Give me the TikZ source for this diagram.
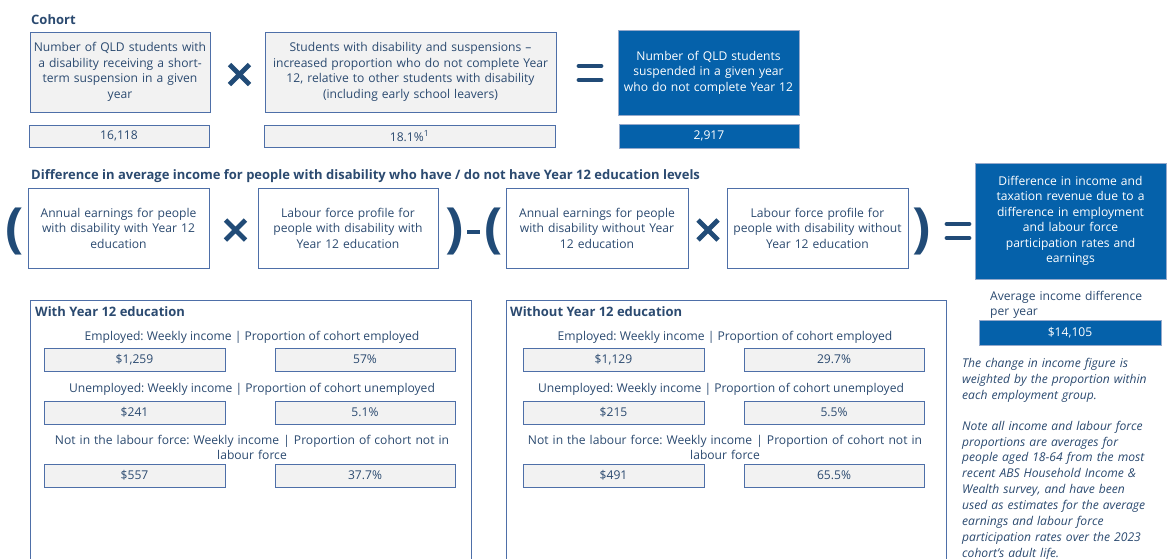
\documentclass[tikz,border=0pt]{standalone}
\usepackage{fontspec}
\setmainfont{Open Sans}
\frenchspacing
\definecolor{txt}{HTML}{2B4A70}
\definecolor{bordc}{HTML}{4E6FA8}
\definecolor{grayf}{HTML}{F2F2F2}
\definecolor{bluef}{HTML}{0561AA}
\definecolor{opc}{HTML}{214B77}
\tikzset{
  base/.style={align=center, text=txt, inner sep=1pt, font=\fontsize{12.1}{15.5}\selectfont},
  graybox/.style={base, draw=bordc, line width=0.9pt, fill=grayf},
  whitebox/.style={base, draw=bordc, line width=0.9pt, fill=white},
  bluebox/.style={base, draw=bordc!60, line width=0.6pt, fill=bluef, text=white},
  title/.style={text=txt, inner sep=0pt, anchor=west, font=\fontsize{13}{15}\selectfont\bfseries},
  label/.style={base},
  opline/.style={draw=opc, line width=4.8pt},
  paren/.style={text=opc, inner sep=0pt, font=\fontsize{54}{54}\selectfont\bfseries},
  panel/.style={draw=bordc, line width=0.9pt, fill=white, anchor=north west, inner sep=0pt},
}
\begin{document}
\begin{tikzpicture}[x=1pt,y=-1pt]
\useasboundingbox (0,0) rectangle (1170,558);
\fill[white] (0,0) rectangle (1170,558);

% --- Cohort row
\node[title] (t1) at (31,20) {Cohort};
\node[graybox, minimum width=180pt, minimum height=80pt, text width=178pt] (b1) at (120,72)
  {Number of QLD students with\\ a disability receiving a short-\\ term suspension in a given\\ year};
\node[graybox, minimum width=291pt, minimum height=80pt, text width=288pt] (b2) at (410.5,72)
  {Students with disability and suspensions --\\ increased proportion who do not complete Year\\ 12, relative to other students with disability\\ (including early school leavers)};
\node[bluebox, minimum width=181pt, minimum height=85pt, text width=178pt] (b3) at (708.5,72.5)
  {Number of QLD students\\ suspended in a given year\\ who do not complete Year 12};
\node[graybox, minimum width=180pt, minimum height=22pt] (v1) at (119,136) {16,118};
\node[graybox, minimum width=291pt, minimum height=22pt] (v2) at (409.5,136) {18.1\%\textsuperscript{1}};
\node[bluebox, minimum width=180pt, minimum height=24pt] (v3) at (709,136) {2,917};

\draw[opline] (229.5,64.5) -- (249.5,84.5) (229.5,84.5) -- (249.5,64.5);
\draw[opline, line cap=round] (579,66) -- (601,66) (579,80) -- (601,80);

% --- Income difference row
\node[title] (t2) at (31,176) {Difference in average income for people with disability who have / do not have Year 12 education levels};
\node[paren] (lp1) at (15,231) {(};
\node[whitebox, minimum width=181pt, minimum height=80pt, text width=178pt] (a) at (118.5,228)
  {Annual earnings for people\\ with disability with Year 12\\ education};
\draw[opline] (225.5,220) -- (245.5,240) (225.5,240) -- (245.5,220);
\node[whitebox, minimum width=180pt, minimum height=80pt, text width=178pt] (b) at (348,228)
  {Labour force profile for\\ people with disability with\\ Year 12 education};
\node[paren] (rp1) at (455,231) {)};
\draw[opline] (467,232) -- (480,232);
\node[paren] (lp2) at (494,231) {(};
\node[whitebox, minimum width=182pt, minimum height=80pt, text width=179pt] (c) at (597,228)
  {Annual earnings for people\\ with disability without Year\\ 12 education};
\draw[opline] (698,220) -- (718,240) (698,240) -- (718,220);
\node[whitebox, minimum width=181pt, minimum height=80pt, text width=179pt] (d) at (817.5,228)
  {Labour force profile for\\ people with disability without\\ Year 12 education};
\node[paren] (rp2) at (922,231) {)};
\draw[opline, line cap=round] (947,224) -- (969,224) (947,238) -- (969,238);
\node[bluebox, minimum width=191pt, minimum height=116pt, text width=188pt] (e) at (1070.5,221)
  {Difference in income and\\ taxation revenue due to a\\ difference in employment\\ and labour force\\ participation rates and\\ earnings};

\node[base, anchor=north west, align=left, text width=178pt] (avg) at (989,290)
  {Average income difference\\ per year};
\node[bluebox, minimum width=182pt, minimum height=25pt] (f) at (1070,332.5) {\$14,105};
\node[base, anchor=north west, align=left, text width=214pt, font=\fontsize{12.1}{15.9}\selectfont\itshape] (notes) at (961,357)
  {The change in income figure is\\ weighted by the proportion within\\ each employment group.\\[15pt]
   Note all income and labour force\\ proportions are averages for\\ people aged 18-64 from the most\\ recent ABS Household Income \&\\ Wealth survey, and have been\\ used as estimates for the average\\ earnings and labour force\\ participation rates over the 2023\\ cohort's adult life.};

% --- Left panel
\node[panel, minimum width=441pt, minimum height=280pt] (pl) at (30,300) {};
\node[title] (plt) at (35,312) {With Year 12 education};
\node[label] (l1) at (252,337) {Employed: Weekly income | Proportion of cohort employed};
\node[graybox, minimum width=181pt, minimum height=23pt] (l1a) at (134.5,359.5) {\$1,259};
\node[graybox, minimum width=180pt, minimum height=23pt] (l1b) at (365,359.5) {57\%};
\node[label] (l2) at (252,389) {Unemployed: Weekly income | Proportion of cohort unemployed};
\node[graybox, minimum width=181pt, minimum height=23pt] (l2a) at (134.5,412.5) {\$241};
\node[graybox, minimum width=180pt, minimum height=23pt] (l2b) at (365,412.5) {5.1\%};
\node[label, text width=430pt] (l3) at (252,447.5) {Not in the labour force: Weekly income | Proportion of cohort not in\\ labour force};
\node[graybox, minimum width=181pt, minimum height=23pt] (l3a) at (134.5,475.5) {\$557};
\node[graybox, minimum width=180pt, minimum height=23pt] (l3b) at (365,475.5) {37.7\%};

% --- Right panel
\node[panel, minimum width=440pt, minimum height=280pt] (pr) at (506,300) {};
\node[title] (prt) at (510,312) {Without Year 12 education};
\node[label] (r1) at (725,337) {Employed: Weekly income | Proportion of cohort employed};
\node[graybox, minimum width=181pt, minimum height=23pt] (r1a) at (613.5,359.5) {\$1,129};
\node[graybox, minimum width=180pt, minimum height=23pt] (r1b) at (834,359.5) {29.7\%};
\node[label] (r2) at (721,389) {Unemployed: Weekly income | Proportion of cohort unemployed};
\node[graybox, minimum width=181pt, minimum height=23pt] (r2a) at (613.5,412.5) {\$215};
\node[graybox, minimum width=180pt, minimum height=23pt] (r2b) at (834,412.5) {5.5\%};
\node[label, text width=430pt] (r3) at (725,447.5) {Not in the labour force: Weekly income | Proportion of cohort not in\\ labour force};
\node[graybox, minimum width=181pt, minimum height=23pt] (r3a) at (613.5,475.5) {\$491};
\node[graybox, minimum width=180pt, minimum height=23pt] (r3b) at (834,475.5) {65.5\%};
\end{tikzpicture}
\end{document}
